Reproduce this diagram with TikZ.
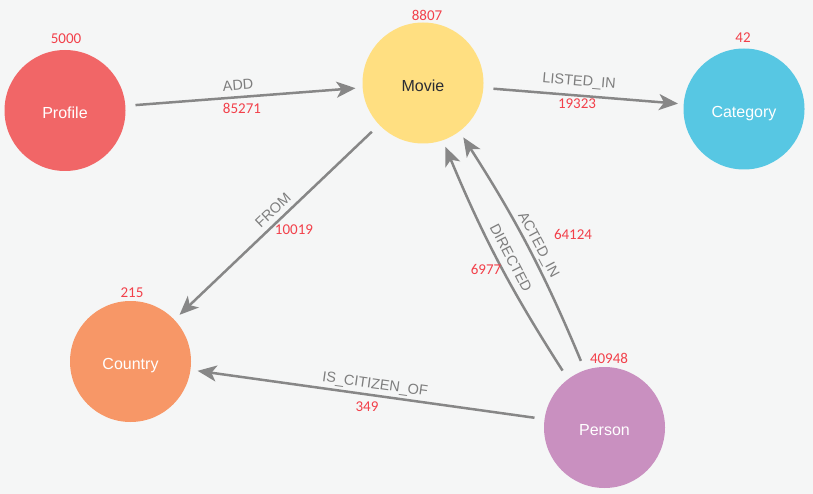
\documentclass[tikz,border=0pt]{standalone}
\usepackage{fontspec}
\setmainfont{Liberation Sans}
\newfontfamily\numfont{Carlito}
\usetikzlibrary{arrows.meta}
\definecolor{bg}{HTML}{F5F6F6}
\definecolor{cProfile}{HTML}{F16667}
\definecolor{cMovie}{HTML}{FFDF81}
\definecolor{cCategory}{HTML}{57C7E3}
\definecolor{cCountry}{HTML}{F79767}
\definecolor{cPerson}{HTML}{C990C0}
\definecolor{edgegray}{HTML}{878787}
\definecolor{labgray}{HTML}{7E7E7E}
\definecolor{numred}{HTML}{F2404A}
\definecolor{movtext}{HTML}{2A2C34}
\newcommand{\entlab}[1]{\raisebox{-2.5pt}[\height][\depth]{#1}}
\begin{document}
\begin{tikzpicture}[x=1pt,y=-1pt,
  ent/.style={circle, minimum size=121pt, inner sep=0pt, draw=none, text=white,
    font=\fontsize{16}{18}\selectfont, text height=11.5pt, text depth=0pt},
  cnt/.style={text=numred, inner sep=0pt, font=\numfont\fontsize{15}{17}\selectfont},
  rlab/.style={text=labgray, inner sep=0pt, font=\fontsize{14.5}{16}\selectfont},
  rel/.style={draw=edgegray, line width=2.5pt,
    -{Stealth[length=19pt,width=16pt,inset=5pt]},
    shorten <=10pt, shorten >=7pt}]
\fill[bg] (0,0) rectangle (813,494);
\useasboundingbox (0,0) rectangle (813,494);

% entities
\node[ent, fill=cProfile] (profile) at (65,110.5) {\entlab{Profile}};
\node[ent, fill=cMovie, text=movtext] (movie) at (423,83) {\entlab{Movie}};
\node[ent, fill=cCategory] (category) at (744,109) {\entlab{Category}};
\node[ent, fill=cCountry] (country) at (130.5,361.5) {\entlab{Country}};
\node[ent, fill=cPerson] (person) at (604.5,427.5) {\entlab{Person}};

% counts
\node[cnt] (nprofile) at (66,39) {5000};
\node[cnt] (nmovie) at (427,15) {8807};
\node[cnt] (ncategory) at (743,38) {42};
\node[cnt] (ncountry) at (132,293) {215};
\node[cnt] (nperson) at (609,358) {40948};

% relationships
\draw[rel] (profile) -- (movie);
\draw[rel, shorten >=5.5pt] (movie) -- (category);
\draw[rel] (movie) -- (country);
\draw[rel] (person) -- (country);
\draw[rel] (person.127) to[bend left=5] (movie.-71);
\draw[rel] (person.109) to[bend right=5] (movie.-53.5);

% relationship labels
\node[rlab, rotate=4.4] (ladd) at (238,85) {ADD};
\node[cnt] (cadd) at (242,108) {85271};
\node[rlab, rotate=-4.9] (llisted) at (579,82) {LISTED\_IN};
\node[cnt] (clisted) at (577,104) {19323};
\node[rlab, rotate=43.6] (lfrom) at (273,210) {FROM};
\node[cnt] (cfrom) at (294,230) {10019};
\node[rlab, rotate=-62.5] (ldirected) at (511,258) {DIRECTED};
\node[cnt] (cdirected) at (486,269) {6977};
\node[rlab, rotate=-62] (lacted) at (538,245) {ACTED\_IN};
\node[cnt] (cacted) at (573,234) {64124};
\node[rlab, rotate=-7.9] (lcitizen) at (375,385) {IS\_CITIZEN\_OF};
\node[cnt] (ccitizen) at (367,407) {349};
\end{tikzpicture}
\end{document}
